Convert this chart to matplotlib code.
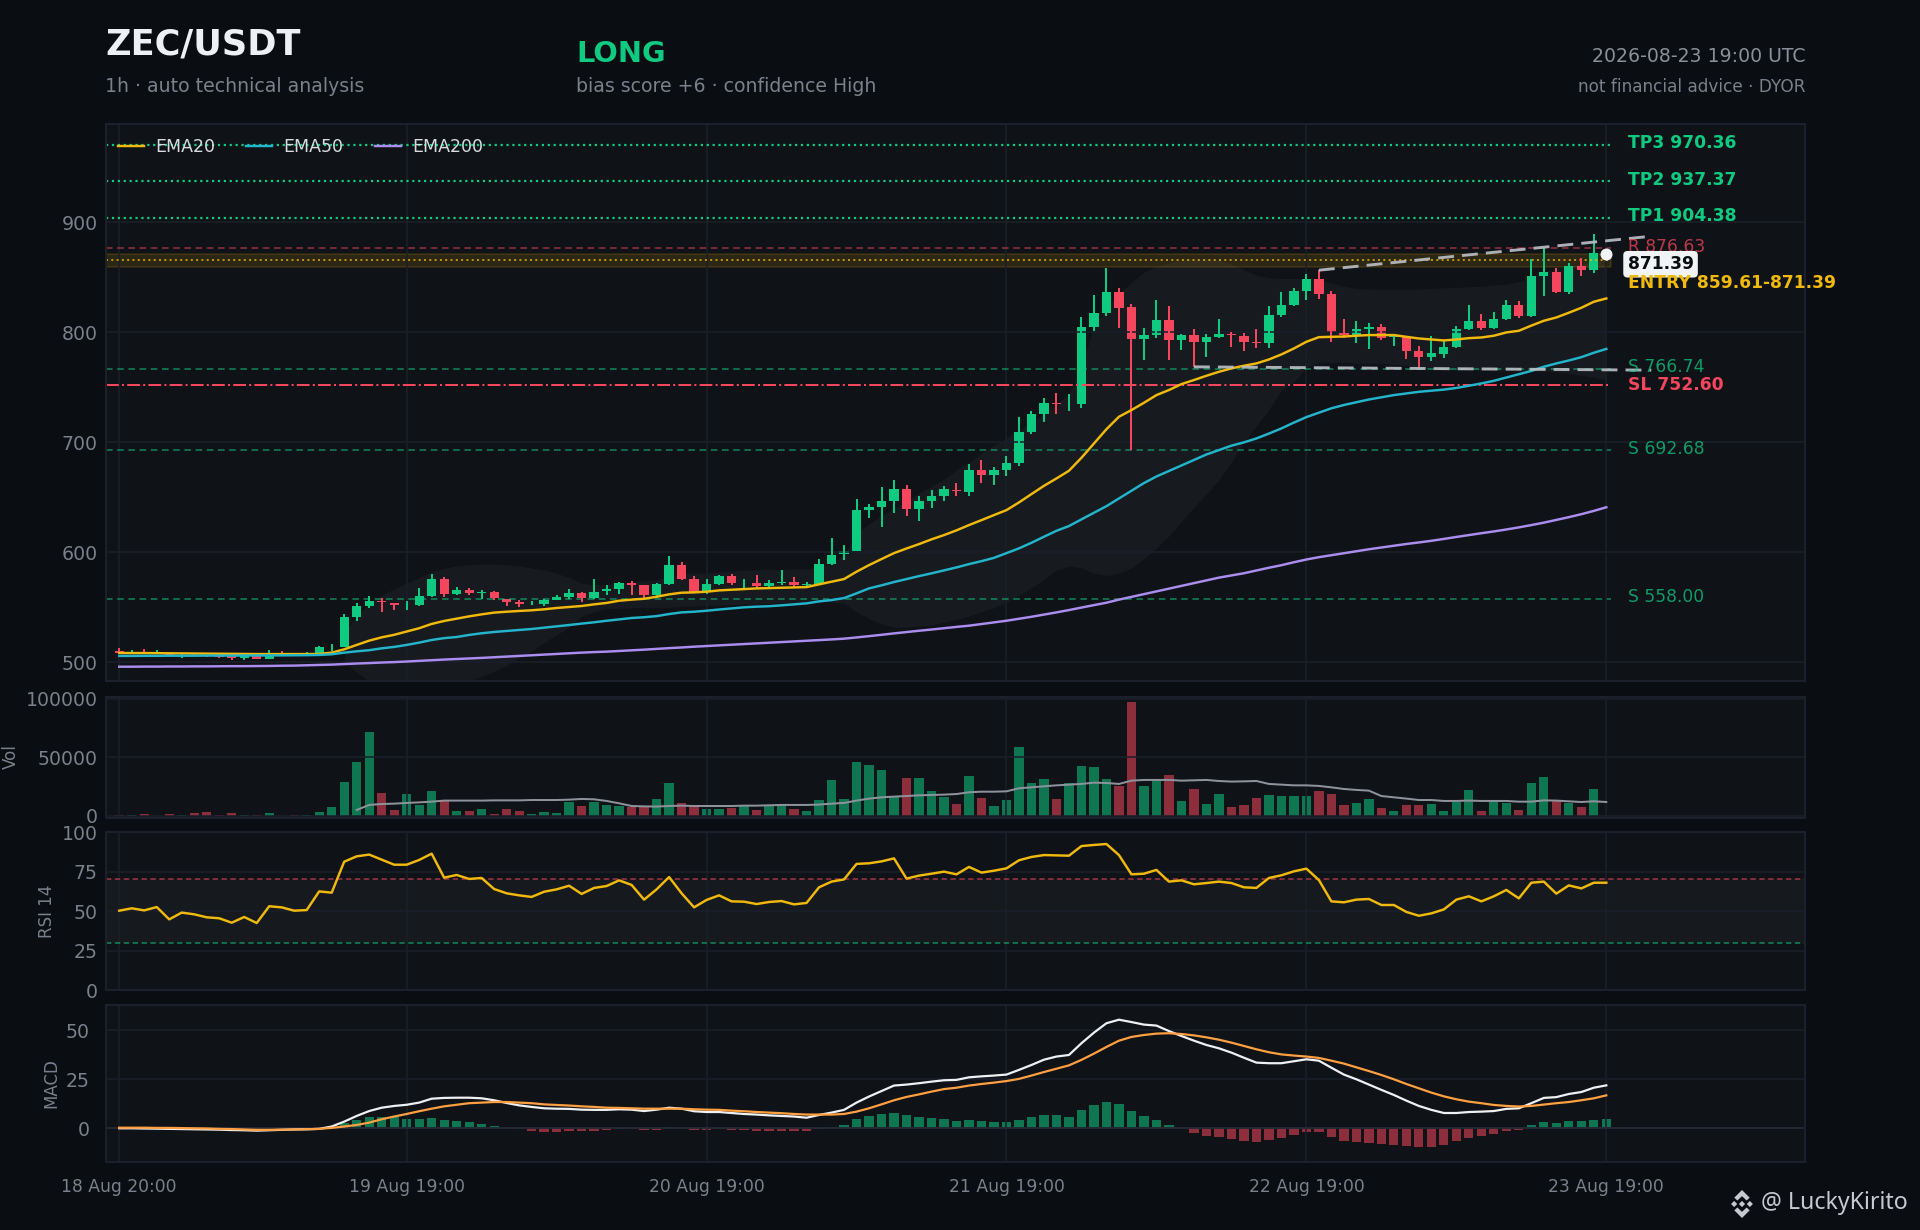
#!/usr/bin/env python3

import matplotlib
matplotlib.use('Agg')
import matplotlib.pyplot as plt
from matplotlib.patches import Polygon

W, H = 1920, 1230
BG = '#0a0d11'
PANEL = '#0f1217'
EDGE = '#1b202c'
GRID = '#1a1f2a'
MUTED = '#7a808c'
GREEN = '#0ecb81'
RED = '#f6465d'
YELLOW = '#f0b90b'
CYAN = '#22b5cc'
PURPLE = '#ab8df0'
ORANGE = '#ff9f3f'

x_ticks = [0, 23, 47, 71, 95, 119]
x_tick_labels = ['18 Aug 20:00', '19 Aug 19:00', '20 Aug 19:00', '21 Aug 19:00', '22 Aug 19:00', '23 Aug 19:00']

opens = [510.3, 508.0, 509.5, 507.6, 507.8, 505.5, 507.0, 506.6, 506.2, 505.8, 504.0, 505.8, 503.1, 508.4, 507.9, 506.8,
         507.6, 512.0, 513.9, 541.2, 551.2, 555.8, 553.9, 552.0, 552.1, 560.3, 575.8, 562.1, 565.8, 563.3, 564.0, 557.6,
         554.9, 554.0, 553.0, 556.7, 559.1, 562.7, 558.5, 564.8, 566.6, 572.1, 570.3, 561.2, 571.2, 588.4, 575.7, 563.9,
         571.2, 578.4, 567.5, 572.1, 569.3, 572.4, 573.0, 570.3, 571.2, 589.3, 598.4, 601.2, 638.7, 641.2, 646.6, 657.5,
         639.3, 646.6, 651.2, 656.6, 654.8, 674.8, 670.2, 674.8, 681.2, 709.3, 725.7, 735.7, 735.0, 734.8, 804.8, 817.6,
         836.7, 823.0, 793.9, 797.6, 811.2, 793.0, 797.6, 791.2, 795.8, 798.5, 796.7, 791.2, 790.3, 815.7, 824.8, 837.6,
         848.5, 834.8, 799.4, 797.6, 803.0, 804.8, 795.7, 795.7, 783.0, 777.6, 780.3, 786.7, 803.0, 810.3, 803.9, 812.1,
         824.8, 814.8, 851.2, 854.8, 836.7, 860.3, 856.7]
highs = [513.0, 511.2, 512.1, 511.2, 508.6, 507.2, 507.5, 507.0, 506.8, 506.5, 506.4, 506.2, 511.2, 510.3, 508.8, 509.7,
         514.9, 516.7, 543.9, 553.9, 560.3, 558.2, 553.9, 555.8, 567.6, 580.3, 577.9, 568.5, 567.6, 565.8, 564.9, 557.6,
         556.7, 555.8, 557.9, 561.2, 566.7, 563.9, 575.8, 570.3, 573.0, 573.9, 570.3, 572.1, 596.6, 591.2, 578.4, 575.7,
         579.3, 580.3, 575.7, 579.3, 574.8, 583.9, 577.5, 573.0, 593.9, 613.0, 606.6, 648.4, 643.9, 659.3, 665.7, 661.2,
         651.2, 656.6, 660.2, 663.0, 680.2, 683.9, 677.5, 687.5, 723.0, 728.4, 740.2, 744.8, 743.9, 813.9, 833.9, 858.5,
         840.3, 825.7, 803.9, 829.4, 823.9, 798.5, 803.0, 798.5, 812.1, 800.3, 799.4, 803.0, 823.9, 836.7, 840.3, 853.0,
         856.7, 837.6, 812.1, 810.3, 808.5, 807.6, 798.5, 796.5, 787.6, 796.7, 792.1, 805.7, 824.8, 816.7, 818.5, 829.4,
         828.5, 866.6, 876.6, 858.5, 863.0, 867.6, 889.4]
lows = [508.2, 507.5, 507.8, 507.2, 506.5, 504.3, 505.8, 505.2, 504.3, 502.1, 502.1, 503.0, 502.8, 507.0, 506.8, 506.5,
        507.2, 510.3, 513.5, 537.6, 549.4, 545.8, 547.6, 547.6, 551.2, 559.1, 559.4, 561.2, 561.2, 557.6, 556.7, 551.2,
        550.3, 552.1, 551.2, 556.5, 557.9, 554.9, 557.6, 561.2, 562.1, 561.2, 558.4, 558.4, 570.3, 575.0, 562.7, 562.4,
        570.3, 570.3, 566.3, 567.2, 568.1, 570.3, 568.7, 568.7, 570.8, 588.4, 593.0, 600.8, 631.2, 623.0, 635.7, 633.0,
        628.4, 640.2, 646.6, 651.2, 651.2, 663.0, 661.2, 669.3, 678.4, 707.5, 718.4, 725.7, 728.4, 731.2, 801.2, 814.8,
        803.9, 693.0, 774.8, 794.8, 774.8, 783.9, 768.5, 777.6, 794.8, 786.7, 783.0, 785.7, 785.7, 813.9, 823.9, 829.4,
        830.3, 791.2, 794.8, 790.3, 784.8, 793.0, 787.6, 775.8, 768.5, 773.9, 776.7, 785.7, 802.1, 802.1, 803.0, 811.2,
        813.0, 813.9, 833.0, 835.7, 834.8, 851.2, 853.9]
closes = [508.5, 509.0, 508.3, 508.4, 507.0, 506.8, 506.2, 505.8, 505.2, 504.0, 505.8, 503.1, 508.2, 507.4, 507.2, 507.8,
          513.9, 512.0, 541.2, 551.2, 555.8, 554.6, 552.4, 552.0, 560.3, 575.8, 562.1, 565.8, 563.0, 563.9, 558.5, 554.9,
          553.3, 554.0, 556.7, 559.4, 563.0, 558.8, 563.9, 566.6, 572.1, 570.6, 561.2, 571.2, 588.4, 575.7, 563.9, 571.2,
          578.4, 572.1, 567.5, 569.3, 572.4, 573.0, 570.3, 571.2, 589.3, 597.5, 600.9, 638.4, 641.2, 646.6, 657.5, 639.3,
          646.6, 651.2, 657.5, 655.7, 674.8, 670.2, 674.8, 681.2, 709.3, 725.7, 735.7, 734.8, 735.0, 804.8, 817.6, 836.7,
          822.1, 793.9, 797.6, 811.2, 793.0, 797.6, 791.2, 795.8, 798.5, 797.6, 791.2, 790.3, 815.7, 824.8, 837.6, 848.5,
          834.8, 800.3, 797.6, 803.0, 804.8, 794.8, 796.7, 783.0, 777.6, 781.2, 786.7, 803.0, 810.3, 803.9, 812.1, 824.8,
          814.8, 851.2, 854.8, 836.7, 860.3, 857.0, 872.1]

ema20 = [508.5, 508.4, 508.4, 508.3, 508.2, 508.1, 508.0, 507.9, 507.8, 507.7, 507.6, 507.5, 507.5, 507.5, 507.5, 507.5,
         507.6, 508.8, 511.8, 515.8, 519.7, 522.7, 525.0, 528.0, 531.0, 534.9, 537.6, 539.7, 541.8, 543.6, 545.2, 546.0,
         546.7, 547.3, 548.2, 549.4, 550.3, 551.2, 552.7, 554.0, 556.0, 557.0, 557.8, 559.6, 561.8, 563.3, 563.6, 564.2,
         565.4, 566.0, 566.6, 567.2, 567.5, 567.8, 568.1, 568.4, 570.9, 573.3, 575.7, 582.4, 588.4, 593.9, 599.3, 603.5,
         607.5, 611.8, 615.7, 620.0, 624.8, 629.3, 633.9, 638.4, 645.4, 653.0, 660.5, 667.2, 674.2, 686.0, 699.0, 712.0,
         723.3, 729.4, 736.0, 743.0, 747.6, 753.0, 756.7, 760.6, 764.2, 767.3, 769.7, 771.8, 775.4, 780.0, 785.4, 791.5,
         795.7, 796.0, 796.3, 797.0, 797.6, 797.6, 797.6, 796.0, 794.5, 793.6, 792.7, 793.6, 794.8, 795.4, 797.0, 800.0,
         801.5, 806.2, 810.6, 813.6, 817.9, 822.4, 827.9, 830.9]
ema50 = [505.8, 505.8, 505.9, 505.9, 506.0, 506.0, 506.0, 506.1, 506.1, 506.1, 506.2, 506.2, 506.3, 506.3, 506.4, 506.5,
         506.7, 507.3, 508.8, 510.0, 511.0, 512.7, 514.0, 515.8, 517.9, 520.3, 522.0, 523.0, 524.9, 526.4, 527.6, 528.5,
         529.4, 530.3, 531.5, 532.7, 533.9, 535.2, 536.4, 537.8, 539.0, 540.3, 541.0, 542.0, 543.9, 545.4, 546.0, 546.9,
         548.0, 549.0, 550.0, 550.6, 551.0, 551.8, 552.7, 553.6, 555.4, 556.6, 558.4, 562.7, 567.2, 570.0, 573.0, 575.7,
         578.4, 580.9, 583.6, 586.3, 589.3, 592.0, 595.0, 599.3, 603.6, 608.7, 614.2, 619.6, 623.9, 630.0, 636.0, 642.0,
         649.0, 656.0, 663.0, 669.0, 674.0, 679.0, 684.0, 689.0, 693.0, 697.0, 700.0, 703.6, 708.0, 712.7, 718.0, 723.0,
         727.0, 731.0, 734.0, 736.5, 739.0, 741.0, 743.0, 744.5, 746.0, 747.0, 748.0, 749.5, 751.5, 753.6, 756.0, 759.0,
         762.0, 765.0, 768.8, 771.8, 774.5, 777.5, 781.5, 785.0]
ema200 = [496.0, 496.0, 496.1, 496.1, 496.2, 496.2, 496.3, 496.3, 496.4, 496.5, 496.5, 496.6, 496.7, 496.9, 497.0, 497.3,
          497.6, 497.9, 498.4, 498.9, 499.3, 499.8, 500.2, 500.7, 501.3, 501.9, 502.5, 503.0, 503.5, 504.0, 504.6, 505.2,
          505.8, 506.4, 507.0, 507.6, 508.2, 508.8, 509.3, 509.7, 510.3, 510.9, 511.5, 512.2, 512.9, 513.5, 514.2, 514.8,
          515.4, 516.0, 516.6, 517.2, 517.8, 518.4, 519.0, 519.6, 520.2, 520.8, 521.5, 522.6, 523.8, 525.0, 526.3, 527.5,
          528.7, 529.8, 531.0, 532.2, 533.3, 534.8, 536.3, 537.8, 539.6, 541.4, 543.4, 545.4, 547.5, 549.8, 552.0, 554.2,
          557.0, 559.5, 562.0, 564.5, 567.0, 569.5, 572.0, 574.5, 577.0, 579.0, 581.0, 583.5, 586.0, 588.3, 591.0, 593.5,
          595.6, 597.4, 599.2, 601.0, 602.8, 604.4, 606.0, 607.6, 609.0, 610.5, 612.2, 614.0, 615.7, 617.4, 619.0, 620.8,
          622.7, 624.8, 627.0, 629.5, 632.0, 634.7, 637.7, 641.0]

# shaded band, first value sits on candle 18
band_start = 18
band_upper = [528, 541.5, 553.6, 561, 567, 572, 577, 582.4, 585.5, 587.6, 588.8, 589.4, 589.4, 588.8, 587.6, 585.8, 584,
              581, 577, 571.8, 570.3, 571, 572, 573, 574, 575, 578, 580, 581, 581, 582, 583, 584, 584, 584.5, 584.5, 585,
              585, 586, 590, 598, 617, 626, 633, 640, 647, 653.6, 660, 667, 675, 682, 690, 697.5, 704, 711, 718, 726, 735,
              744, 769, 806, 822, 836, 845, 855, 860, 863, 866, 867, 867, 866, 862, 857, 852, 850, 849, 849, 849, 848, 845,
              842, 840, 839.5, 839, 839, 839, 839.5, 840, 840.5, 841, 841.5, 842, 843, 844, 846, 850, 855, 858, 860, 862,
              865, 868]
band_lower = [500, 491.5, 483, 476, 472, 470, 470, 472, 475, 478, 483, 487, 492, 497, 504, 510, 518, 525, 532, 542, 546,
              549, 549, 549.5, 550, 550, 550, 551, 551, 552, 552, 552.5, 553, 553, 553.5, 554, 554, 554.5, 555, 555, 553.6,
              546, 540, 535, 532, 532, 533, 534, 536.6, 539, 542, 546, 549.6, 555, 561, 568, 575.4, 584, 587.5, 586, 581,
              579, 581, 586, 594, 604, 615, 628, 641, 653, 666, 682, 700, 715, 730, 747, 755, 768, 773, 773, 773, 772, 772,
              772, 771, 770, 768, 767, 766, 766, 766, 765.5, 765, 765, 765, 764.5, 764.5, 764, 763, 761, 759, 757]

volume = [850, 850, 1700, 300, 1700, 850, 2550, 3400, 850, 2550, 850, 850, 2550, 200, 850, 850, 3400, 7700, 29000, 46000,
          71600, 19600, 5100, 18700, 9400, 21300, 13600, 4300, 4300, 6000, 1700, 6000, 4300, 1700, 3400, 2550, 11900, 8500,
          11900, 9400, 8500, 7700, 7700, 14500, 28100, 11100, 8500, 6000, 6000, 6800, 8500, 5100, 9400, 9400, 6000, 4300,
          13600, 30700, 14500, 46000, 43500, 39200, 17000, 32400, 32400, 21300, 16200, 10200, 34100, 15300, 8500, 13600,
          58800, 28100, 31500, 14500, 28100, 42600, 41700, 31500, 25600, 97100, 25600, 30700, 34900, 12800, 23000, 10200,
          18700, 7700, 9400, 15300, 17900, 17000, 17000, 17000, 21300, 18700, 9400, 11100, 14500, 6800, 4300, 9400, 9400,
          10200, 4300, 11900, 22200, 4300, 12800, 11100, 5100, 28100, 33200, 12800, 11100, 7700, 23000]
# volume average, first value sits on candle 19
vol_ma_start = 19
vol_ma = [5100, 9400, 10200, 10500, 11100, 11600, 12200, 13100, 13100, 13100, 13100, 13300, 13300, 13300, 13600, 13600,
          13600, 13900, 14500, 14200, 12800, 10800, 8500, 8200, 8000, 8500, 8800, 8500, 8500, 8500, 8500, 8800, 8800, 9100,
          9400, 9400, 9400, 9700, 10500, 11100, 13100, 14800, 15900, 16500, 17000, 17600, 17900, 18200, 18700, 20200, 20700,
          20700, 21000, 23600, 24400, 25300, 26100, 26700, 27300, 28400, 28100, 27300, 30100, 30700, 30700, 30700, 30100,
          30400, 30700, 29800, 29300, 29500, 29800, 27300, 26700, 26100, 26100, 25600, 24400, 23000, 22200, 21600, 17000,
          15900, 14800, 13600, 13600, 12800, 12800, 13100, 12800, 12800, 12800, 12200, 12200, 13300, 13100, 12500, 11900,
          12500, 11900]

rsi = [50.2, 51.7, 50.4, 52.5, 44.7, 49.0, 47.9, 46.0, 45.4, 42.6, 46.2, 42.4, 53.0, 52.3, 50.2, 50.6, 62.4, 61.6, 81.2,
       84.6, 85.7, 82.5, 79.3, 79.3, 82.3, 86.3, 71.1, 72.8, 70.3, 70.9, 63.9, 61.2, 59.9, 58.9, 62.2, 63.7, 66.0, 60.8,
       64.6, 65.8, 69.4, 66.5, 57.2, 63.7, 71.5, 61.2, 52.3, 57.0, 59.9, 56.1, 55.9, 54.4, 55.7, 56.3, 54.2, 55.1, 65.0,
       68.6, 70.0, 79.8, 80.2, 81.4, 83.3, 70.5, 72.4, 73.6, 74.9, 73.2, 77.9, 74.3, 75.5, 77.0, 82.1, 84.2, 85.4, 85.2,
       85.0, 91.1, 91.8, 92.4, 85.4, 73.2, 73.6, 76.0, 68.6, 69.4, 66.9, 67.7, 68.6, 67.7, 65.0, 64.6, 70.9, 72.6, 75.1,
       76.8, 69.6, 56.1, 55.5, 57.2, 57.6, 53.8, 53.8, 49.4, 47.0, 48.5, 51.0, 57.2, 59.3, 56.1, 59.3, 63.3, 58.0, 67.9,
       68.6, 61.0, 66.2, 64.3, 67.9, 67.9]

macd = [0.0, 0.0, -0.1, -0.2, -0.3, -0.4, -0.5, -0.6, -0.7, -0.9, -1.0, -1.2, -1.0, -0.8, -0.6, -0.5, -0.3, 0.9, 3.4, 6.3,
        8.8, 10.5, 11.4, 12.0, 13.1, 15.1, 15.5, 15.6, 15.6, 15.3, 14.3, 12.9, 11.7, 10.9, 10.2, 10.0, 9.9, 9.5, 9.4, 9.4,
        9.7, 9.5, 8.8, 9.5, 10.5, 10.0, 8.7, 8.3, 8.3, 7.8, 7.3, 7.0, 6.6, 6.3, 6.0, 5.4, 6.8, 8.0, 9.4, 13.1, 16.2, 19.0,
        21.8, 22.3, 23.0, 23.8, 24.5, 24.7, 26.0, 26.5, 26.9, 27.4, 29.8, 32.3, 35.0, 36.6, 37.4, 43.4, 48.8, 53.6, 55.4,
        54.2, 52.9, 52.4, 49.6, 47.1, 44.7, 42.5, 40.8, 38.6, 36.0, 33.5, 33.2, 33.2, 34.2, 35.2, 34.5, 30.9, 27.4, 25.0,
        22.3, 19.6, 17.0, 14.1, 11.4, 9.4, 7.8, 7.8, 8.3, 8.5, 8.8, 9.9, 10.2, 12.8, 15.5, 15.9, 17.5, 18.5, 20.7, 21.9]
signal = [0.3, 0.3, 0.3, 0.2, 0.2, 0.1, 0.0, -0.1, -0.3, -0.4, -0.6, -0.8, -0.8, -0.7, -0.6, -0.5, -0.3, 0.2, 0.9, 1.7,
          2.9, 4.6, 6.0, 7.3, 8.7, 10.0, 11.2, 12.0, 12.8, 13.1, 13.4, 13.4, 13.1, 12.8, 12.2, 11.9, 11.6, 11.2, 10.9, 10.5,
          10.4, 10.2, 10.0, 10.0, 10.0, 10.0, 9.7, 9.5, 9.4, 9.0, 8.7, 8.3, 8.0, 7.7, 7.3, 7.0, 7.0, 7.0, 7.3, 8.5, 10.2,
          12.2, 14.3, 16.0, 17.3, 18.7, 20.0, 20.7, 21.8, 22.6, 23.3, 24.1, 25.2, 26.9, 28.7, 30.4, 32.1, 34.9, 38.1, 41.5,
          44.7, 46.6, 47.6, 48.3, 48.5, 48.1, 47.4, 46.4, 45.2, 43.7, 42.0, 40.3, 38.8, 37.7, 37.1, 36.6, 35.9, 34.5, 33.0,
          31.1, 29.2, 27.2, 25.0, 22.6, 20.4, 18.2, 16.3, 14.8, 13.6, 12.8, 11.9, 11.4, 11.1, 11.4, 12.1, 12.8, 13.4, 14.3,
          15.3, 16.8]
hist = [-0.1, -0.1, -0.1, -0.1, -0.1, -0.1, -0.1, -0.1, -0.1, -0.1, -0.1, -0.1, -0.1, -0.1, -0.1, 0.0, 0.0, 0.3, 2.5, 4.1,
        5.6, 5.8, 5.8, 4.8, 4.8, 5.3, 4.3, 3.7, 3.2, 2.2, 1.2, 0.2, -0.5, -1.4, -1.9, -1.9, -1.4, -1.4, -1.4, -0.9, -0.3,
        -0.2, -0.9, -0.9, 0.7, 0.2, -0.7, -0.7, -0.2, -0.7, -0.7, -1.4, -1.4, -1.4, -1.4, -1.4, -0.2, 0.7, 1.7, 4.8, 6.3,
        7.3, 7.8, 6.8, 5.8, 5.3, 4.8, 3.7, 4.3, 3.7, 3.2, 3.2, 4.3, 5.8, 6.8, 6.8, 5.8, 9.4, 11.9, 13.4, 12.4, 8.8, 6.3, 4.3,
        1.7, 0.0, -2.4, -3.9, -4.4, -5.4, -6.5, -7.0, -6.0, -4.9, -3.4, -1.9, -1.9, -4.4, -6.5, -7.0, -7.5, -8.0, -8.5,
        -9.0, -9.5, -9.5, -8.5, -6.5, -4.9, -3.9, -2.9, -1.4, -0.7, 1.7, 3.2, 2.7, 3.7, 3.7, 4.3, 4.8]

tp_levels = [970.36, 937.37, 904.38]
support_levels = [766.74, 692.68, 558.00]
resistance = 876.63
stop_loss = 752.60
entry_low = 859.61
entry_high = 871.39
last_price = 871.39
trend_upper_x = [96, 122.6]
trend_upper_y = [856.6, 887.5]
trend_lower_x = [86, 122.6]
trend_lower_y = [768.7, 765.7]


def add_panel(fig, top, bottom):
    left, right = 105.5, 1805
    ax = fig.add_axes([left / W, 1 - bottom / H, (right - left) / W, (bottom - top) / H])
    ax.set_facecolor(PANEL)
    ax.set_xlim(-1.1, 134.9)
    ax.set_xticks(x_ticks)
    ax.grid(True, color=GRID, lw=0.7)
    ax.tick_params(length=0, colors=MUTED, labelsize=8.5, labelbottom=False)
    for s in ax.spines.values():
        s.set_color(EDGE)
        s.set_linewidth(0.9)
    return ax


def fig_text(fig, x, y, s, **kw):
    return fig.text(x / W, 1 - y / H, s, va='center', **kw)


def draw_candles(ax):
    for i in range(len(closes)):
        color = GREEN if closes[i] >= opens[i] else RED
        ax.vlines(i, lows[i], highs[i], color=color, lw=0.9)
        ax.bar(i, abs(closes[i] - opens[i]), 0.74, bottom=min(opens[i], closes[i]), color=color, lw=0)


def draw_levels(ax):
    x0, x1 = -1.1, 119.4
    for p in tp_levels:
        ax.hlines(p, x0, x1, color=GREEN, lw=1.0, ls=':')
    for p in support_levels:
        ax.hlines(p, x0, x1, color=GREEN, lw=0.8, ls=(0, (3.7, 2.6)), alpha=0.55)
    ax.hlines(resistance, x0, x1, color=RED, lw=0.8, ls=(0, (3.7, 2.6)), alpha=0.5)
    ax.hlines(stop_loss, x0, x1, color=RED, lw=0.9, ls='-.')
    ax.fill_between([x0, x1], entry_low, entry_high, color=YELLOW, alpha=0.13, lw=0.8)
    ax.hlines((entry_low + entry_high) / 2, x0, x1, color=YELLOW, lw=0.9, ls=':', alpha=0.75)


def draw_labels(ax):
    lx = 120.7
    for p, name in zip(tp_levels, ['TP3', 'TP2', 'TP1']):
        ax.text(lx, p + 1.5, '%s %.2f' % (name, p), color=GREEN, fontsize=7.7, weight='bold', va='center')
    for p in support_levels:
        ax.text(lx, p + 1.5, 'S %.2f' % p, color=GREEN, fontsize=7.7, alpha=0.75, va='center')
    ax.text(lx, 878, 'R %.2f' % resistance, color=RED, fontsize=7.7, alpha=0.75, va='center')
    ax.text(lx, stop_loss, 'SL %.2f' % stop_loss, color=RED, fontsize=7.7, weight='bold', va='center')
    ax.text(lx, 862, '%.2f' % last_price, color='#0a0d11', fontsize=7.7, weight='bold', va='center',
            bbox=dict(boxstyle='round,pad=0.25', fc='#f2f3f5', ec='none'), zorder=6)
    ax.text(lx, 844.5, 'ENTRY %.2f-%.2f' % (entry_low, entry_high), color=YELLOW, fontsize=7.7, weight='bold',
            va='center', zorder=7)


def draw_logo(fig, cx, cy, s):
    parts = [
        [(0, -0.22), (0.22, 0), (0, 0.22), (-0.22, 0)],
        [(-0.78, 0), (-0.56, -0.22), (-0.34, 0), (-0.56, 0.22)],
        [(0.78, 0), (0.56, -0.22), (0.34, 0), (0.56, 0.22)],
        [(0, -1), (0.55, -0.45), (0.33, -0.25), (0, -0.56), (-0.33, -0.25), (-0.55, -0.45)],
        [(0, 1), (0.55, 0.45), (0.33, 0.25), (0, 0.56), (-0.33, 0.25), (-0.55, 0.45)],
    ]
    for pts in parts:
        xy = [((cx + a * s) / W, 1 - (cy + b * s) / H) for a, b in pts]
        fig.add_artist(Polygon(xy, closed=True, fc='#c6cad0', ec='none', transform=fig.transFigure))


fig = plt.figure(figsize=(W / 160, H / 160), dpi=160, facecolor=BG)

ax1 = add_panel(fig, 123.5, 681)
ax1.set_ylim(483, 990)
ax1.set_yticks([500, 600, 700, 800, 900])
x_band = list(range(band_start, band_start + len(band_upper)))
ax1.fill_between(x_band, band_lower, band_upper, color='#ffffff', alpha=0.035, lw=0)
draw_levels(ax1)
draw_candles(ax1)
ax1.plot(range(len(ema20)), ema20, color=YELLOW, lw=1.1, label='EMA20')
ax1.plot(range(len(ema50)), ema50, color=CYAN, lw=1.1, label='EMA50')
ax1.plot(range(len(ema200)), ema200, color=PURPLE, lw=1.1, label='EMA200')
ax1.plot(trend_upper_x, trend_upper_y, color='#bcc0c8', lw=1.3, ls=(0, (5.5, 2.8)), alpha=0.9)
ax1.plot(trend_lower_x, trend_lower_y, color='#bcc0c8', lw=1.3, ls=(0, (5.5, 2.8)), alpha=0.9)
ax1.plot([119], [last_price], 'o', color='#f2f3f5', ms=5.4, mew=0, zorder=5)
draw_labels(ax1)
ax1.legend(loc='upper left', ncol=3, frameon=False, fontsize=7.8, labelcolor='#d8dbe0', handlelength=1.5,
           handletextpad=0.65, columnspacing=1.8, bbox_to_anchor=(0.0, 0.995), borderaxespad=0.3)

ax2 = add_panel(fig, 696.5, 817.5)
ax2.set_ylim(-1300, 101800)
ax2.set_yticks([0, 50000, 100000])
vol_colors = [GREEN if closes[i] >= opens[i] else RED for i in range(len(volume))]
ax2.bar(range(len(volume)), volume, 0.74, color=vol_colors, alpha=0.55, lw=0)
ax2.plot(range(vol_ma_start, vol_ma_start + len(vol_ma)), vol_ma, color='#8d929b', lw=0.9)
ax2.set_ylabel('Vol', color=MUTED, fontsize=7.5, labelpad=2.5)

ax3 = add_panel(fig, 832, 990)
ax3.set_ylim(0, 100)
ax3.set_yticks([0, 25, 50, 75, 100])
ax3.axhspan(30, 70, color='#ffffff', alpha=0.03, lw=0)
ax3.axhline(70, color=RED, lw=0.8, ls=(0, (3, 2)), alpha=0.55)
ax3.axhline(30, color=GREEN, lw=0.8, ls=(0, (3, 2)), alpha=0.55)
ax3.plot(range(len(rsi)), rsi, color=YELLOW, lw=1.1)
ax3.set_ylabel('RSI 14', color=MUTED, fontsize=7.5, labelpad=2.5)

ax4 = add_panel(fig, 1005, 1162)
ax4.set_ylim(-17.2, 62.9)
ax4.set_yticks([0, 25, 50])
hist_colors = [GREEN if v >= 0 else RED for v in hist]
ax4.bar(range(len(hist)), hist, 0.74, color=hist_colors, alpha=0.55, lw=0)
ax4.axhline(0, color='#252b38', lw=0.7)
ax4.plot(range(len(macd)), macd, color='#eef0f3', lw=1.0)
ax4.plot(range(len(signal)), signal, color=ORANGE, lw=1.0)
ax4.set_ylabel('MACD', color=MUTED, fontsize=7.5, labelpad=2.5)
ax4.set_xticklabels(x_tick_labels, fontsize=7.7)
ax4.tick_params(labelbottom=True, pad=7)

fig_text(fig, 105, 44, 'ZEC/USDT', color='#eef0f4', fontsize=15.8, weight='bold')
fig_text(fig, 105, 86, '1h · auto technical analysis', color=MUTED, fontsize=8.5)
fig_text(fig, 576, 54, 'LONG', color=GREEN, fontsize=13, weight='bold')
fig_text(fig, 576, 86, 'bias score +6 · confidence High', color=MUTED, fontsize=8.5)
fig_text(fig, 1805, 57, '2026-08-23 19:00 UTC', color='#8a8f99', fontsize=8.5, ha='right')
fig_text(fig, 1805, 87, 'not financial advice · DYOR', color=MUTED, fontsize=7.6, ha='right')

draw_logo(fig, 1742, 1204, 14)
fig_text(fig, 1761, 1203, '@ LuckyKirito', color='#c6cad0', fontsize=10.4, family='Noto Sans')

fig.savefig('out.png', dpi=160, facecolor=BG)
